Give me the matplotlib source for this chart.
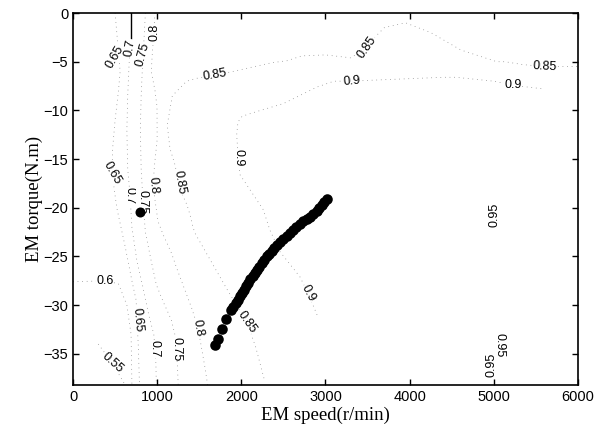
import numpy as np
import matplotlib.pyplot as plt

plt.rcParams['font.family'] = ['Liberation Sans', 'DejaVu Sans']

# Punkty pracy silnika (prędkość r/min, moment N.m)
op_speed = [1687, 1719, 1767, 1818, 1877, 1905, 1932, 1958, 1984, 2010, 2035, 2060,
            2083, 2108, 2135, 2158, 2182, 2210, 2240, 2270, 2301, 2330, 2360, 2390,
            2420, 2460, 2500, 2540, 2578, 2615, 2655, 2695, 2736, 2775, 2815, 2855,
            2894, 2925, 2955, 2985, 3013]
op_torque = [-34.1, -33.5, -32.5, -31.4, -30.5, -30.15, -29.8, -29.45, -29.1, -28.75,
             -28.4, -28.05, -27.7, -27.35, -27.05, -26.7, -26.4, -26.05, -25.7, -25.35,
             -25.0, -24.7, -24.4, -24.1, -23.8, -23.5, -23.2, -22.9, -22.6, -22.3,
             -22.0, -21.7, -21.4, -21.15, -20.9, -20.6, -20.3, -20.0, -19.7, -19.4, -19.1]

# pojedynczy punkt
pt_speed = [796]
pt_torque = [-20.4]

# Izolinie sprawności
c055_x = [300, 463, 620]
c055_y = [-34.0, -35.9, -38.2]
c06_x = [0, 380, 540, 640, 690, 700]
c06_y = [-27.6, -27.5, -27.8, -30.0, -33.0, -38.2]
c065_x = [500, 540, 560, 540, 500, 470, 463, 520, 620, 700, 750, 760, 775, 790]
c065_y = [0, -4.0, -6.0, -8.0, -11.0, -14.0, -16.4, -20.0, -24.0, -27.5, -29.5, -31.5, -34.0, -38.2]
c07_x = [689, 677, 665, 650, 640, 650, 677, 700, 760, 832, 900, 960, 974, 985, 990]
c07_y = [-2.7, -3.6, -5.5, -8.5, -12.0, -16.0, -18.6, -22.0, -25.5, -28.2, -31.0, -33.0, -34.5, -36.0, -38.2]
c075_x = [860, 845, 832, 820, 810, 800, 810, 832, 860, 930, 990, 1069, 1168, 1210, 1224, 1240, 1250]
c075_y = [0, -2.5, -4.3, -6.5, -8.5, -12.0, -16.0, -19.4, -22.5, -25.5, -27.9, -29.6, -31.5, -33.0, -34.5, -36.0, -38.2]
c08_x = [974, 960, 940, 930, 975, 998, 1000, 970, 950, 1010, 1073, 1172, 1232, 1410, 1485, 1568, 1600]
c08_y = [0, -2.0, -4.5, -6.0, -8.0, -9.6, -13.0, -15.5, -17.7, -21.4, -22.8, -24.7, -26.2, -30.3, -32.3, -36.4, -38.2]
c085a_x = [2269, 2174, 2067, 1845, 1449, 1426, 1390, 1354, 1271, 1212, 1152, 1120, 1180, 1350,
           1473, 1687, 1900, 2364, 2542, 2721, 3000, 3300, 3450, 3550, 3700, 3950, 4250,
           4610, 4824, 5037, 5132, 5350, 5607, 6000]
c085a_y = [-37.5, -34.4, -31.7, -28.6, -22.6, -22.0, -20.7, -19.7, -18.1, -15.6, -13.9, -11.5,
           -8.5, -7.0, -6.7, -6.4, -6.0, -5.1, -4.9, -4.4, -4.3, -4.6, -3.8, -2.8, -1.5, -1.0,
           -2.0, -3.8, -4.4, -5.0, -5.0, -5.3, -5.5, -5.5]
c09_x = [2900, 2795, 2697, 2459, 2340, 2261, 1984, 1964, 1945, 1960, 2010, 2190, 2500,
         2900, 3100, 3314, 3550, 4400, 4550, 5000, 5227, 5400, 5600]
c09_y = [-31.0, -28.8, -27.1, -24.5, -22.3, -20.2, -16.6, -14.9, -12.5, -11.2, -10.6, -10.1,
         -9.3, -7.6, -7.0, -7.0, -6.9, -6.6, -6.6, -7.0, -7.4, -7.6, -7.8]

# Etykiety izolinii: wartość, x, y, obrót
lab_text = ['0.65', '0.7', '0.75', '0.8', '0.85', '0.85', '0.9', '0.85', '0.9', '0.9',
            '0.65', '0.8', '0.85', '0.7', '0.75', '0.6', '0.65', '0.7', '0.75', '0.8',
            '0.85', '0.9', '0.55', '0.95', '0.95', '0.95']
lab_x = [499, 677, 832, 974, 1687, 3493, 3314, 5607, 5227, 1964,
         463, 950, 1271, 677, 820, 380, 772, 974, 1224, 1485,
         2067, 2795, 463, 5013, 4978, 5073]
lab_y = [-4.5, -3.6, -4.3, -2.0, -6.4, -3.5, -7.0, -5.5, -7.4, -14.9,
         -16.4, -17.7, -17.4, -18.8, -19.4, -27.5, -31.5, -34.5, -34.5, -32.3,
         -31.7, -28.8, -35.9, -20.7, -36.1, -34.1]
lab_rot = [60, 80, 75, 90, 10, 55, 5, -3, 0, -90,
           -60, -85, -80, -90, -90, 0, -85, -90, -90, -80,
           -55, -62, -42, 90, 90, -90]

fig = plt.figure(figsize=(5.97, 4.33), dpi=100)
ax = fig.add_axes([0.1223, 0.1109, 0.8457, 0.859])

kw = dict(color='0.5', linestyle=(0, (1.0, 5.0)), linewidth=0.55)
for xs, ys in [(c055_x, c055_y), (c06_x, c06_y), (c065_x, c065_y), (c07_x, c07_y),
               (c075_x, c075_y), (c08_x, c08_y), (c085a_x, c085a_y), (c09_x, c09_y)]:
    ax.plot(xs, ys, **kw)
ax.plot([689, 689], [0, -2.7], color='k', linewidth=1.0)

for t, x, y, r in zip(lab_text, lab_x, lab_y, lab_rot):
    ax.text(x, y, t, rotation=r, fontsize=9, ha='center', va='center',
            rotation_mode='anchor', zorder=3,
            bbox=dict(facecolor='white', edgecolor='none', pad=0.3))

ax.plot(op_speed, op_torque, 'o', color='k', markersize=7.6, markeredgewidth=0, zorder=5)
ax.plot(pt_speed, pt_torque, 'o', color='k', markersize=7.2, markeredgewidth=0, zorder=5)

ax.set_xlim(0, 6000)
ax.set_ylim(-38.2, 0)
ax.set_xticks(np.arange(0, 6001, 1000))
ax.set_yticks(np.arange(-35, 1, 5))
ax.tick_params(direction='in', top=True, right=True, labelsize=10.5, width=1.0, length=4)
for s in ax.spines.values():
    s.set_linewidth(1.2)
ax.set_xlabel('EM speed(r/min)', family='Liberation Serif', fontsize=13.5, labelpad=2)
ax.set_ylabel('EM torque(N.m)', family='Liberation Serif', fontsize=13.5, labelpad=0)

plt.savefig('out.png', dpi=100)
